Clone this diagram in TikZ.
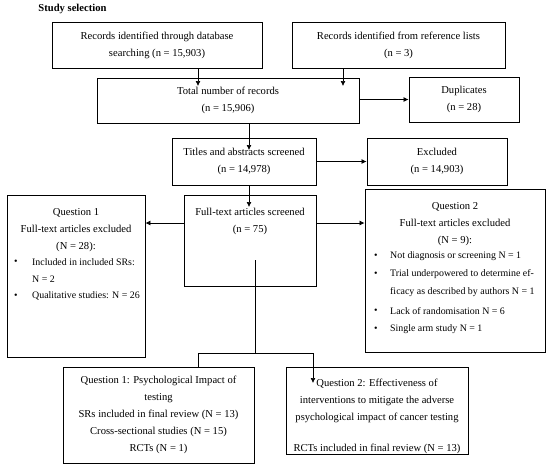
\documentclass[tikz,border=0pt]{standalone}
\usepackage{fontspec}
\setmainfont{Liberation Serif}
\usetikzlibrary{arrows.meta,calc}
\newcommand{\fs}{\fontsize{10.6}{17}\selectfont}
\newcommand{\fb}{\fontsize{9.9}{17}\selectfont}
\tikzset{
  box/.style={draw, line width=0.9pt, inner sep=0pt, align=center, font=\fs},
  txt/.style={inner sep=0pt, align=center, font=\fs},
  btxt/.style={inner sep=0pt, anchor=west, align=left, font=\fb},
  arr/.style={-{Latex[length=5pt,width=5pt]}, line width=0.7pt},
  ln/.style={line width=0.7pt},
}
\begin{document}
\begin{tikzpicture}[x=1pt,y=-1pt]
\useasboundingbox (0,0) rectangle (550,469);
\node[inner sep=0pt, font=\fontsize{10.6}{11}\selectfont\bfseries] (title) at (72.5,9) {Study selection};
% top boxes
\node[box, minimum width=210, minimum height=46] (A) at (157,45) {Records identified through database\\searching (n = 15,903)};
\node[box, minimum width=213, minimum height=46] (B) at (398.5,45) {Records identified from reference lists\\(n = 3)};
\node[box, minimum width=262, minimum height=45] (C) at (228,100.5) {Total number of records\\(n = 15,906)};
\node[box, minimum width=110, minimum height=45] (D) at (464,99.5) {Duplicates\\(n = 28)};
\node[box, minimum width=144, minimum height=47] (E) at (244,161.5) {Titles and abstracts screened\\(n = 14,978)};
\node[box, minimum width=140, minimum height=47] (F) at (437,161.5) {Excluded\\(n = 14,903)};
\node[box, minimum width=132, minimum height=91] (G) at (250,240.5) {};
\node[txt, anchor=north] (Gt) at (250,208) {Full-text articles screened\\(n = 75)};
% Q1 excluded
\node[box, minimum width=138, minimum height=162] (H) at (76,276) {};
\node[txt, anchor=north] (Ht) at (76,208) {Question 1\\Full-text articles excluded\\(N = 28):};
\node[btxt] (Hb1) at (14,262) {\textbullet};
\node[btxt] (Hi1) at (32,262) {Included in included SRs:};
\node[btxt] (Hi1b) at (32,279) {N = 2};
\node[btxt] (Hb2) at (14,296) {\textbullet};
\node[btxt] (Hi2) at (32,296) {Qualitative studies: N = 26};
% Q2 excluded
\node[box, minimum width=180, minimum height=163] (I) at (455,270.5) {};
\node[txt, anchor=north] (It) at (455,202) {Question 2\\Full-text articles excluded\\(N = 9):};
\node[btxt] (Ib1) at (374,256) {\textbullet};
\node[btxt] (Ii1) at (390,256) {Not diagnosis or screening N = 1};
\node[btxt] (Ib2) at (374,274) {\textbullet};
\node[btxt] (Ii2) at (390,274) {Trial underpowered to determine ef-};
\node[btxt] (Ii2b) at (390,292) {ficacy as described by authors N = 1};
\node[btxt] (Ib3) at (374,311) {\textbullet};
\node[btxt] (Ii3) at (390,311) {Lack of randomisation N = 6};
\node[btxt] (Ib4) at (374,329) {\textbullet};
\node[btxt] (Ii4) at (390,329) {Single arm study N = 1};
% result boxes
\node[box, minimum width=191, minimum height=96] (J) at (158.5,415) {Question 1: Psychological Impact of\\testing\\SRs included in final review (N = 13)\\Cross-sectional studies (N = 15)\\RCTs (N = 1)};
\node[box, minimum width=182, minimum height=87] (K) at (377,410.5) {};
\node[txt, anchor=north] (Kt) at (377,379) {Question 2: Effectiveness of\\interventions to mitigate the adverse\\psychological impact of cancer testing\\[14pt]RCTs included in final review (N = 13)};
% connectors
\coordinate (tA) at (198,86);
\coordinate (tB) at (343,86);
\coordinate (tC) at (249,150);
\coordinate (tE) at (249,207);
\draw[arr] (A.south -| tA) -- (tA);
\draw[arr] (B.south -| tB) -- (tB);
\draw[arr] (C.east |- D.west) -- (D.west);
\draw[arr] (C.south -| tC) -- (tC);
\draw[arr] (E.east |- F.west) -- (F.west);
\draw[arr] (E.south -| tE) -- (tE);
\coordinate (g1) at (0,223);
\draw[arr] (G.west |- g1) -- (H.east |- g1);
\draw[arr] (G.east |- g1) -- (I.west |- g1);
\coordinate (gs) at (255,260);
\coordinate (split) at (255,353);
\coordinate (jx) at (198,0);
\coordinate (kt) at (313,383);
\draw[ln] (gs) -- (split);
\draw[ln] (split) -| (J.north -| jx);
\draw[arr] (split) -| (kt);
\end{tikzpicture}
\end{document}
